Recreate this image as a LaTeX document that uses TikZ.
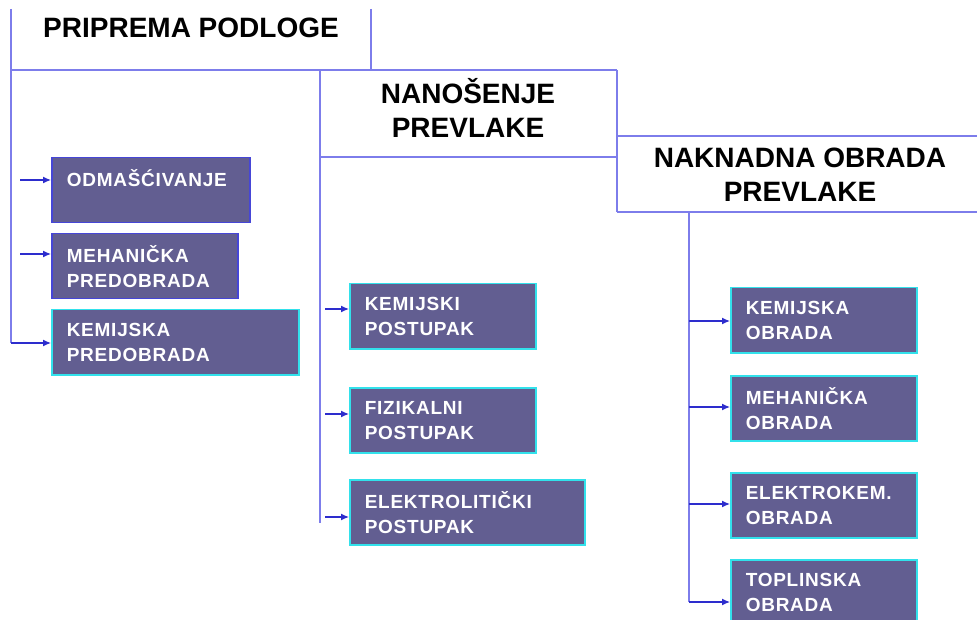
\documentclass[tikz,border=0pt]{standalone}
\usepackage{fontspec}
\usetikzlibrary{arrows.meta}
\setmainfont{Liberation Sans}
\newfontfamily\stagefont[LetterSpace=4]{Liberation Sans}
\newfontfamily\headfont{Liberation Sans}

\definecolor{stagefill}{RGB}{98,94,145}
\definecolor{edgecyan}{RGB}{50,225,235}
\definecolor{edgeblue}{RGB}{70,70,215}
\definecolor{framecol}{RGB}{125,125,235}
\definecolor{arrowcol}{RGB}{45,45,205}

\begin{document}
\begin{tikzpicture}[
    x=1pt,
    y=-1pt,
    stage/.style={
        rectangle,
        anchor=north west,
        minimum height=65pt,
        inner xsep=15pt,
        inner ysep=0pt,
        draw=edgecyan,
        line width=1.5pt,
        fill=stagefill,
        text=white,
        font=\stagefont\bfseries\fontsize{19}{25}\selectfont,
        align=left
    },
    head/.style={
        inner sep=0pt,
        anchor=base,
        font=\headfont\bfseries\fontsize{28}{34}\selectfont,
        align=center
    },
    frame/.style={
        draw=framecol,
        line width=1.5pt
    },
    arrow/.style={
        ->,
        >={Latex[length=8pt,width=7pt]},
        draw=arrowcol,
        line width=1.2pt
    }
]
\useasboundingbox (0,0) rectangle (977,620);

% Headers
\node[head] (prep) at (191,38) {PRIPREMA PODLOGE};
\node[head] (nan) at (468,138) {NANOŠENJE\\PREVLAKE};
\node[head] (nak) at (800,202) {NAKNADNA OBRADA\\PREVLAKE};

% Header frame
\draw[frame] (371,9) -- (371,70);
\draw[frame] (11,70) -- (617,70);
\draw[frame] (320,157) -- (617,157);
\draw[frame] (617,70) -- (617,212);
\draw[frame] (617,136) -- (977,136);
\draw[frame] (617,212) -- (977,212);

% Surface preparation
\node[stage, draw=edgeblue, text width=168pt] (odm) at (51,157) {ODMAŠĆIVANJE\\\mbox{}};
\node[stage, draw=edgeblue, text width=156pt] (mehp) at (51,233) {MEHANIČKA\\PREDOBRADA};
\node[stage, text width=217pt] (kemp) at (51,309) {KEMIJSKA\\PREDOBRADA};

% Coating
\node[stage, text width=156pt] (kemi) at (349,283) {KEMIJSKI\\POSTUPAK};
\node[stage, text width=156pt] (fiz) at (349,387) {FIZIKALNI\\POSTUPAK};
\node[stage, text width=205pt] (elek) at (349,479) {ELEKTROLITIČKI\\POSTUPAK};

% After-treatment
\node[stage, text width=156pt] (kemo) at (730,287) {KEMIJSKA\\OBRADA};
\node[stage, text width=156pt] (meho) at (730,375) {MEHANIČKA\\OBRADA};
\node[stage, text width=156pt] (elko) at (730,472) {ELEKTROKEM.\\OBRADA};
\node[stage, text width=156pt] (topl) at (730,559) {TOPLINSKA\\OBRADA};

% Branch points
\coordinate (l1) at (20,180);
\coordinate (l2) at (20,254);
\coordinate (l3) at (11,343);
\coordinate (m1) at (325,309);
\coordinate (m2) at (325,414);
\coordinate (m3) at (325,517);
\coordinate (r1) at (689,321);
\coordinate (r2) at (689,407);
\coordinate (r3) at (689,504);
\coordinate (r4) at (689,602);

% Trunks
\draw[frame] (11,9) -- (l3);
\draw[frame] (320,70) -- (320,523);
\draw[frame] (689,212) -- (r4);

% Arrows
\draw[arrow] (l1) -- (l1 -| odm.west);
\draw[arrow] (l2) -- (l2 -| mehp.west);
\draw[arrow] (l3) -- (l3 -| kemp.west);
\draw[arrow] (m1) -- (m1 -| kemi.west);
\draw[arrow] (m2) -- (m2 -| fiz.west);
\draw[arrow] (m3) -- (m3 -| elek.west);
\draw[arrow] (r1) -- (r1 -| kemo.west);
\draw[arrow] (r2) -- (r2 -| meho.west);
\draw[arrow] (r3) -- (r3 -| elko.west);
\draw[arrow] (r4) -- (r4 -| topl.west);

\end{tikzpicture}
\end{document}
